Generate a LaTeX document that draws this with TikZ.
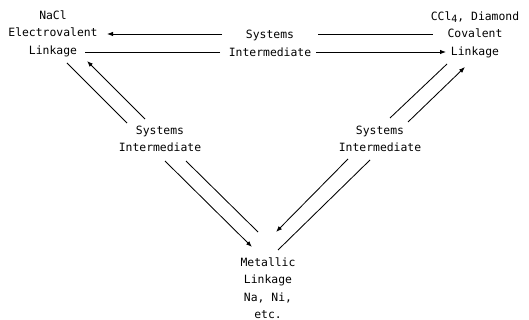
\documentclass[tikz,border=0pt]{standalone}
\usepackage{fontspec}
\setmainfont{DejaVu Sans Mono}
\usetikzlibrary{arrows.meta}
\begin{document}
\begin{tikzpicture}[x=1pt,y=-1pt,
  lbl/.style={align=center,font=\fontsize{11.4}{17.5}\selectfont,inner sep=0pt},
  conn/.style={line width=0.85pt},
  arr/.style={conn,-{Latex[length=6pt,width=4.5pt]}}]
\useasboundingbox (0,0) rectangle (529,320);
% text nodes
\node[lbl] (nacl) at (53,33.5) {NaCl\\Electrovalent\\Linkage};
\node[lbl] (cov) at (475,34.5) {CCl\raisebox{-0.45ex}{\fontsize{10}{10}\selectfont 4}, Diamond\\Covalent\\Linkage};
\node[lbl] (systop) at (270,43.5) {Systems\\Intermediate};
\node[lbl] (sysl) at (160,139) {Systems\\Intermediate};
\node[lbl] (sysr) at (380,139) {Systems\\Intermediate};
\node[lbl] (met) at (268,288) {Metallic\\Linkage\\Na, Ni,\\etc.};
% connector end points
\coordinate (t1a) at (222,34); \coordinate (t1b) at (107,34);
\coordinate (t2a) at (220,52); \coordinate (t2b) at (85,52);
\coordinate (t3a) at (318,34); \coordinate (t3b) at (433,34);
\coordinate (t4a) at (316,52); \coordinate (t4b) at (446,52);
\coordinate (l1a) at (67,63);  \coordinate (l1b) at (127,123);
\coordinate (l2a) at (145,119); \coordinate (l2b) at (87,61);
\coordinate (l3a) at (165,161); \coordinate (l3b) at (252,247);
\coordinate (l4a) at (186,161); \coordinate (l4b) at (258,232);
\coordinate (r1a) at (348,159); \coordinate (r1b) at (276,232);
\coordinate (r2a) at (370,160); \coordinate (r2b) at (278,250);
\coordinate (r3a) at (390,118); \coordinate (r3b) at (447,64);
\coordinate (r4a) at (408,122); \coordinate (r4b) at (465,67);
% connectors
\draw[arr] (t1a) -- (t1b);
\draw[conn] (t2a) -- (t2b);
\draw[conn] (t3a) -- (t3b);
\draw[arr] (t4a) -- (t4b);
\draw[conn] (l1a) -- (l1b);
\draw[arr] (l2a) -- (l2b);
\draw[arr] (l3a) -- (l3b);
\draw[conn] (l4a) -- (l4b);
\draw[arr] (r1a) -- (r1b);
\draw[conn] (r2a) -- (r2b);
\draw[conn] (r3a) -- (r3b);
\draw[arr] (r4a) -- (r4b);
\end{tikzpicture}
\end{document}
